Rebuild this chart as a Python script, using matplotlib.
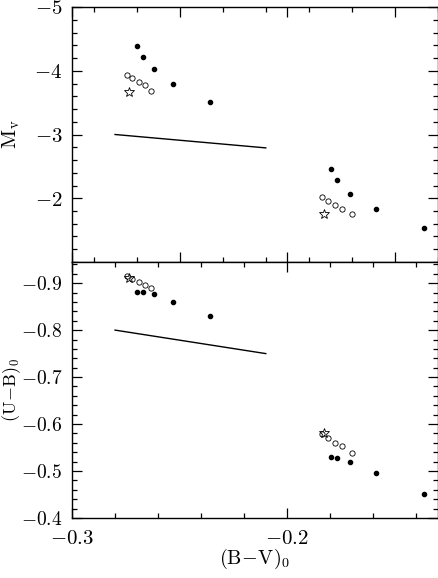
import matplotlib
matplotlib.use("Agg")
import matplotlib.pyplot as plt
from matplotlib.ticker import FixedLocator, FuncFormatter

plt.rcParams['mathtext.fontset'] = 'cm'
plt.rcParams['font.family'] = ['DejaVu Serif']

# ---- data ----
# filled dots (B-V)0, Mv, (U-B)0
bv_dots = [-0.2699, -0.2672, -0.2621, -0.2529, -0.2359,
           -0.1797, -0.1768, -0.1709, -0.1588, -0.1365]
mv_dots = [-4.39, -4.22, -4.02, -3.79, -3.51,
           -2.46, -2.29, -2.07, -1.83, -1.54]
ub_dots = [-0.882, -0.882, -0.876, -0.860, -0.830,
           -0.529, -0.527, -0.519, -0.495, -0.451]

# open circles
bv_circ = [-0.2743, -0.2720, -0.2690, -0.2661, -0.2632,
           -0.1840, -0.1810, -0.1778, -0.1747, -0.1698]
mv_circ = [-3.94, -3.89, -3.82, -3.77, -3.68,
           -2.02, -1.95, -1.89, -1.83, -1.76]
ub_circ = [-0.915, -0.909, -0.903, -0.896, -0.890,
           -0.579, -0.570, -0.560, -0.553, -0.538]

# open stars
bv_star = [-0.2734, -0.1830]
mv_star = [-3.67, -1.75]
ub_star = [-0.911, -0.581]

# reddening vectors
bv_vec = [-0.28, -0.21]
mv_vec = [-3.00, -2.79]
ub_vec = [-0.80, -0.75]

W, H = 439, 578
fig = plt.figure(figsize=(W / 100, H / 100), dpi=100)

left = 72 / W
width = 366 / W
ax1 = fig.add_axes([left, (H - 262) / H, width, 255 / H])
ax2 = fig.add_axes([left, (H - 518) / H, width, 256 / H])

def draw(ax, ys_d, ys_c, ys_s, ys_v):
    ax.plot(bv_dots, ys_d, 'o', ms=3.0, color='black', mec='black', lw=0)
    ax.plot(bv_circ, ys_c, 'o', ms=3.8, mfc='none', mec='black', mew=0.6,
            lw=0)
    ax.plot(bv_star, ys_s, '*', ms=7.5, mfc='none', mec='black', mew=0.6,
            lw=0)
    ax.plot(bv_vec, ys_v, '-', color='black', lw=1.0)

draw(ax1, mv_dots, mv_circ, mv_star, mv_vec)
draw(ax2, ub_dots, ub_circ, ub_star, ub_vec)

for ax in (ax1, ax2):
    ax.set_xlim(-0.3, -0.13)
    for s in ax.spines.values():
        s.set_linewidth(1.0)
    ax.tick_params(which='both', direction='in', top=True, right=True,
                   width=0.9, labelsize=15)
    ax.tick_params(which='major', length=7.2)
    ax.tick_params(which='minor', length=3.6)
    ax.tick_params(axis='y', pad=7)
    ax.tick_params(axis='x', pad=8)
ax2.tick_params(axis='y', labelsize=14)

ax1.set_ylim(-1, -5)
ax2.set_ylim(-0.4, -0.945)

# upper panel ticks
ax1.xaxis.set_major_locator(FixedLocator([-0.3, -0.25, -0.2, -0.15]))
ax1.xaxis.set_minor_locator(FixedLocator([-0.29, -0.27, -0.23, -0.21, -0.19, -0.17, -0.13]))
ax1.tick_params(axis='x', labelbottom=False)
ax1.yaxis.set_major_locator(FixedLocator([-5, -4, -3, -2]))
ax1.yaxis.set_minor_locator(FixedLocator([-5 + 0.2 * i for i in range(21)]))
ax1.yaxis.set_major_formatter(FuncFormatter(lambda v, p: r'$%d$' % round(v)))

# lower panel ticks
ax2.xaxis.set_major_locator(FixedLocator([-0.3, -0.2]))
ax2.xaxis.set_minor_locator(FixedLocator([-0.28, -0.26, -0.24, -0.22, -0.18, -0.16, -0.14]))
ax2.xaxis.set_major_formatter(FuncFormatter(lambda v, p: r'$%.1f$' % v))
ax2.yaxis.set_major_locator(FixedLocator([-0.9, -0.8, -0.7, -0.6, -0.5, -0.4]))
ax2.yaxis.set_minor_locator(FixedLocator([-0.94 + 0.02 * i for i in range(28)]))
ax2.yaxis.set_major_formatter(FuncFormatter(lambda v, p: r'$%.1f$' % v))

fig.text(11 / W, 1 - 134 / H, r'$\mathrm{M_v}$', rotation=90,
         ha='center', va='center', fontsize=15)
fig.text(11.5 / W, 1 - 390 / H, r'$\mathrm{(U\!-\!B)_0}$', rotation=90,
         ha='center', va='center', fontsize=13)
fig.text(255 / W, 1 - 559 / H, r'$\mathrm{(B\!-\!V)_0}$',
         ha='center', va='center', fontsize=14.5)

fig.savefig('out.png', dpi=100)
